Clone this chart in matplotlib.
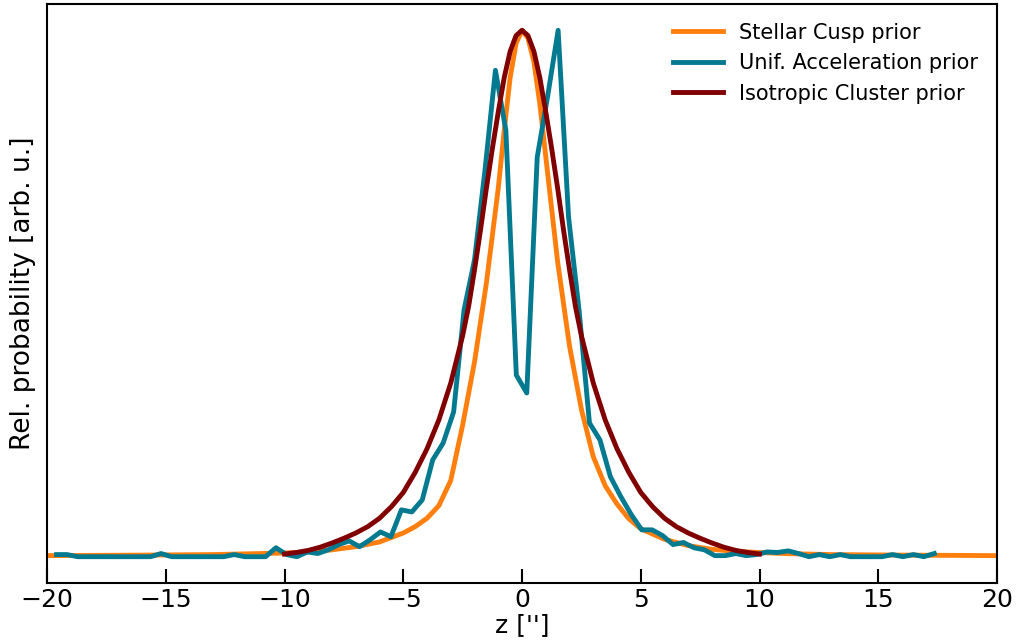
import matplotlib
matplotlib.use('Agg')
import matplotlib.pyplot as plt
import numpy as np

# Stellar Cusp prior
z_cusp = [-20, -16, -13, -11, -10, -9, -8, -7, -6, -5, -4.5, -4, -3.5, -3, -2.5, -2,
          -1.5, -1, -0.75, -0.5, -0.25, 0, 0.25, 0.5, 0.75, 1, 1.5, 2, 2.5, 3, 3.5, 4, 4.5, 5,
          6, 7, 8, 9, 10, 11, 13, 16, 20]
p_cusp = [0.002, 0.003, 0.004, 0.006, 0.007, 0.009, 0.013, 0.019, 0.028, 0.045, 0.057, 0.073,
          0.097, 0.145, 0.25, 0.37, 0.52, 0.70, 0.81, 0.91, 0.975, 1.0, 0.985, 0.94, 0.86,
          0.76, 0.56, 0.40, 0.28, 0.19, 0.135, 0.10, 0.072, 0.053, 0.033, 0.021, 0.014,
          0.010, 0.008, 0.006, 0.004, 0.003, 0.002]

# Unif. Acceleration prior (binned)
z_acc = list(np.round(np.arange(85) * 0.44 - 19.6, 2))
p_acc = [0.004, 0.004, 0, 0, 0, 0, 0, 0, 0, 0,
         0.006, 0, 0, 0, 0, 0, 0, 0.004, 0, 0,
         0, 0.017, 0.004, 0, 0.009, 0.006, 0.013, 0.023, 0.030, 0.019,
         0.032, 0.047, 0.038, 0.089, 0.085, 0.108, 0.184, 0.216, 0.275, 0.469,
         0.564, 0.734, 0.924, 0.810, 0.345, 0.311, 0.759, 0.875, 1.0, 0.645,
         0.469, 0.254, 0.222, 0.152, 0.114, 0.080, 0.051, 0.051, 0.040, 0.023,
         0.027, 0.017, 0.013, 0.002, 0.002, 0.006, 0.002, 0.004, 0.009, 0.008,
         0.011, 0.006, 0, 0.004, 0, 0.004, 0, 0, 0, 0,
         0.004, 0, 0.004, 0, 0.006]

# Isotropic Cluster prior
z_iso = [-10, -9.5, -9, -8.5, -8, -7.5, -7, -6.5, -6, -5.5, -5, -4.5, -4, -3.5, -3, -2.5,
         -2.25, -2, -1.75, -1.5, -1.25, -1, -0.75, -0.5, -0.25, 0, 0.25, 0.5, 0.75, 1,
         1.25, 1.5, 1.75, 2, 2.25, 2.5, 3, 3.5, 4, 4.5, 5,
         5.5, 6, 6.5, 7, 7.5, 8, 8.5, 9, 9.5, 10]
p_iso = [0.005, 0.008, 0.012, 0.018, 0.026, 0.035, 0.045, 0.057, 0.073, 0.095, 0.122, 0.16,
         0.205, 0.26, 0.33, 0.42, 0.475, 0.545, 0.62, 0.70, 0.775, 0.845, 0.91, 0.96, 0.99,
         1.0, 0.99, 0.96, 0.91, 0.845, 0.775, 0.70, 0.62, 0.545, 0.475, 0.42, 0.33, 0.26,
         0.205, 0.16, 0.122, 0.095, 0.073, 0.057, 0.045, 0.035, 0.026, 0.018, 0.012,
         0.008, 0.005]

fig, ax = plt.subplots(figsize=(10.16, 6.43), dpi=100)
fig.subplots_adjust(left=0.0463, right=0.9813, top=0.9938, bottom=0.0933)

ax.plot(z_cusp, p_cusp, color='#ff7f0e', lw=3.5, label='Stellar Cusp prior')
ax.plot(z_acc, p_acc, color='#037a8f', lw=3.5, label='Unif. Acceleration prior')
ax.plot(z_iso, p_iso, color='#800000', lw=3.5, label='Isotropic Cluster prior')

ax.set_xlim(-20, 20)
ax.set_ylim(-0.05, 1.05)
ax.set_yticks([])
ax.tick_params(axis='x', direction='in', length=10, width=1.5, labelsize=18)
for s in ax.spines.values():
    s.set_linewidth(1.5)
ax.set_xlabel("z ['']", fontsize=18, labelpad=1)
ax.set_ylabel('Rel. probability [arb. u.]', fontsize=19, labelpad=8)
ax.legend(loc='upper right', frameon=False, fontsize=15, handlelength=2.4)

plt.savefig('out.png')
